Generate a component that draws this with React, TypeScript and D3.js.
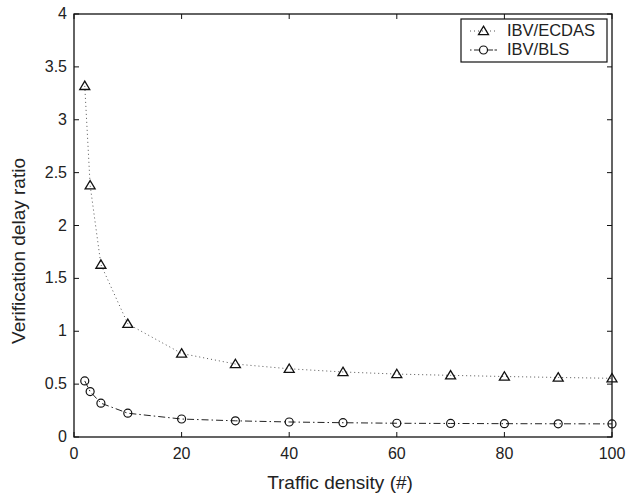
import React from "react";
import * as d3 from "d3";

const xValues = [2, 3, 5, 10, 20, 30, 40, 50, 60, 70, 80, 90, 100];
const ecdasValues = [3.32, 2.38, 1.63, 1.07, 0.79, 0.69, 0.645, 0.615, 0.595, 0.583, 0.572, 0.563, 0.555];
const blsValues = [0.53, 0.43, 0.32, 0.225, 0.17, 0.153, 0.142, 0.135, 0.13, 0.128, 0.126, 0.125, 0.124];
const xTicks = [0, 20, 40, 60, 80, 100];
const yTicks = [0, 0.5, 1, 1.5, 2, 2.5, 3, 3.5, 4];
const seriesNames = ["IBV/ECDAS", "IBV/BLS"];

const W = 627;
const H = 496;
const left = 74;
const right = 612;
const top = 14;
const bottom = 437;
const font = "'Liberation Sans', Arial, Helvetica, sans-serif";

export default function App() {
  const x = d3.scaleLinear().domain([0, 100]).range([left, right]);
  const y = d3.scaleLinear().domain([0, 4]).range([bottom, top]);
  const line = d3
    .line<number>()
    .x((_, i) => x(xValues[i]))
    .y((d) => y(d));

  const tri = (cx: number, cy: number) =>
    `M${cx},${cy - 4.8} L${cx + 5},${cy + 3.6} L${cx - 5},${cy + 3.6} Z`;

  const tickLen = 5;

  return (
    <svg
      width={W}
      height={H}
      style={{ position: "absolute", left: 0, top: 0, background: "#fff" }}
      fontFamily={font}
    >
      <rect x={0} y={0} width={W} height={H} fill="#fff" />
      {/* series lines */}
      <path
        d={line(ecdasValues) || ""}
        fill="none"
        stroke="#555"
        strokeWidth={1}
        strokeDasharray="1,3"
      />
      <path
        d={line(blsValues) || ""}
        fill="none"
        stroke="#222"
        strokeWidth={1}
        strokeDasharray="7,3,1.5,3"
      />
      {/* markers */}
      {ecdasValues.map((v, i) => (
        <path
          key={"t" + i}
          d={tri(x(xValues[i]), y(v))}
          fill="none"
          stroke="#111"
          strokeWidth={1.3}
        />
      ))}
      {blsValues.map((v, i) => (
        <circle
          key={"c" + i}
          cx={x(xValues[i])}
          cy={y(v)}
          r={4}
          fill="none"
          stroke="#111"
          strokeWidth={1.2}
        />
      ))}
      {/* axes box */}
      <rect
        x={left}
        y={top}
        width={right - left}
        height={bottom - top}
        fill="none"
        stroke="#111"
        strokeWidth={1.3}
      />
      {xTicks.map((t) => (
        <g key={"xt" + t}>
          <line x1={x(t)} x2={x(t)} y1={bottom} y2={bottom - tickLen} stroke="#111" />
          <line x1={x(t)} x2={x(t)} y1={top} y2={top + tickLen} stroke="#111" />
          <text x={x(t)} y={bottom + 22} textAnchor="middle" fontSize={16} fill="#222">
            {t}
          </text>
        </g>
      ))}
      {yTicks.map((t) => (
        <g key={"yt" + t}>
          <line x1={left} x2={left + tickLen} y1={y(t)} y2={y(t)} stroke="#111" />
          <line x1={right} x2={right - tickLen} y1={y(t)} y2={y(t)} stroke="#111" />
          <text x={left - 7} y={y(t) + 5} textAnchor="end" fontSize={16} fill="#222">
            {t}
          </text>
        </g>
      ))}
      <text x={340} y={489} textAnchor="middle" fontSize={19} fill="#222">
        Traffic density (#)
      </text>
      <text
        transform={`translate(25,251) rotate(-90)`}
        textAnchor="middle"
        fontSize={19}
        fill="#222"
      >
        Verification delay ratio
      </text>
      {/* legend */}
      <rect x={461} y={19} width={146} height={43} fill="#fff" stroke="#111" strokeWidth={1.2} />
      <line x1={470} x2={497} y1={31} y2={31} stroke="#555" strokeDasharray="1,3" />
      <path d={tri(483.5, 31)} fill="none" stroke="#111" strokeWidth={1.3} />
      <text x={507} y={36} fontSize={16.5} fill="#222">
        {seriesNames[0]}
      </text>
      <line x1={470} x2={497} y1={50} y2={50} stroke="#222" strokeDasharray="1.5,2.5,5,9,5" />
      <circle cx={483.5} cy={50} r={4} fill="#fff" stroke="#111" strokeWidth={1.2} />
      <text x={507} y={55} fontSize={16.5} fill="#222">
        {seriesNames[1]}
      </text>
    </svg>
  );
}
